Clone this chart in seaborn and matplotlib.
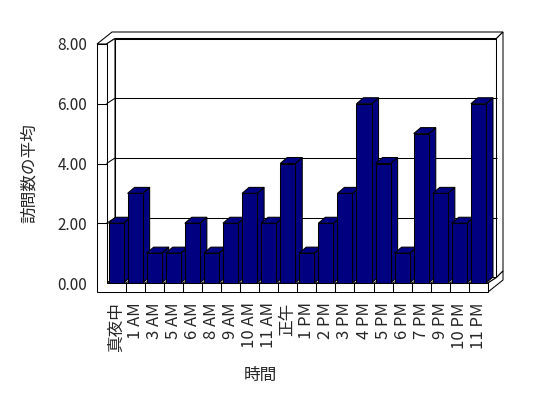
import matplotlib
matplotlib.use("Agg")
import matplotlib.pyplot as plt
from matplotlib.patches import Polygon
import seaborn as sns
import pandas as pd

categories = ["真夜中", "1 AM", "3 AM", "5 AM", "6 AM", "8 AM", "9 AM", "10 AM", "11 AM", "正午",
              "1 PM", "2 PM", "3 PM", "4 PM", "5 PM", "6 PM", "7 PM", "9 PM", "10 PM", "11 PM"]
values = [2, 3, 1, 1, 2, 1, 2, 3, 2, 4, 1, 2, 3, 6, 4, 1, 5, 3, 2, 6]
y_ticks = [0, 2, 4, 6, 8]
y_tick_labels = ["0.00", "2.00", "4.00", "6.00", "8.00"]
x_title = "時間"
y_title = "訪問数の平均"

sns.set_style("white")
plt.rcParams['font.family'] = ['Noto Sans CJK JP', 'DejaVu Sans']

W, H = 548, 398
fig = plt.figure(figsize=(W / 100, H / 100), dpi=100)
fig.patch.set_facecolor("white")

# front plane of the plot area in pixels
L, R, T, B = 106.5, 488.0, 44.0, 283.0
ax = fig.add_axes([L / W, 1 - B / H, (R - L) / W, (B - T) / H])
ax.set_facecolor("none")

n = len(categories)
ymax = y_ticks[-1]
LW = 0.75

def X(px):
    return -0.5 + (px - L) / (R - L) * n

def Y(py):
    return (B - py) / (B - T) * ymax

def poly(pts, z, fc="white", lw=LW):
    p = Polygon([(X(a), Y(b)) for a, b in pts], closed=True, facecolor=fc,
                edgecolor="black", linewidth=lw, zorder=z, clip_on=False)
    ax.add_patch(p)

def line(pts, z, lw=LW):
    ax.plot([X(a) for a, b in pts], [Y(b) for a, b in pts], color="black",
            linewidth=lw, zorder=z, clip_on=False, solid_capstyle="butt")

# depth offsets in pixels
DX, DY = 8.5, 5.5      # front plane -> back wall face
OX = 97.0              # outer left edge of left wall
FB = 292.0             # bottom of floor slab

df = pd.DataFrame({"cat": categories, "val": values})
sns.barplot(data=df, x="cat", y="val", color="#000080", saturation=1,
            edgecolor="black", linewidth=LW, width=0.79, ax=ax)
bars = list(ax.containers[0])

# back wall front face
poly([(L + DX, T - DY), (R + DX, T - DY), (R + DX, B - DY), (L + DX, B - DY)], 0.3)
# back wall top + left wall top
poly([(OX, T), (112, 32), (503, 32), (R + DX, T - DY), (L + DX, T - DY), (L, T)], 0.4)
# back wall right side
poly([(R + DX, T - DY), (503, 32), (503, 271), (R + DX, B - DY)], 0.4)
# left wall inner side
poly([(L, T), (L + DX, T - DY), (L + DX, B - DY), (L, B)], 0.4)
# floor top face
poly([(L, B), (R, B), (R + DX, B - DY), (L + DX, B - DY)], 0.5)
# floor right side
poly([(R, B), (R + DX, B - DY), (503, 271), (503, 280), (R, FB)], 0.5)
# left wall front + floor front (L-shape)
poly([(OX, T), (L, T), (L, B), (R, B), (R, FB), (OX, FB)], 0.6)
# gridlines and wall ticks
for v in y_ticks[1:-1]:
    py = B - v / ymax * (B - T)
    line([(L + DX, py - DY), (R + DX, py - DY)], 1.2)
    line([(L, py), (L + DX, py - DY)], 1.2)
    line([(OX, py), (L, py)], 1.3)
# category separators on floor
for k in range(1, n):
    px = L + k * (R - L) / n
    line([(px, B), (px, FB)], 1.3)
    line([(px, B), (px + DX, B - DY)], 1.2, lw=0.5)

bdx = 7.0 / (R - L) * n
bdy = 6.0 / (B - T) * ymax
navy = "#000080"
for i, p in enumerate(bars):
    x0 = p.get_x()
    x1 = x0 + p.get_width()
    h = p.get_height()
    p.set_zorder(3 + 2 * i)
    side = Polygon([(x1, 0), (x1 + bdx, bdy), (x1 + bdx, h + bdy), (x1, h)], closed=True,
                   facecolor=navy, edgecolor="black", linewidth=LW, zorder=2 + 2 * i, clip_on=False)
    top = Polygon([(x0, h), (x1, h), (x1 + bdx, h + bdy), (x0 + bdx, h + bdy)], closed=True,
                  facecolor=navy, edgecolor="black", linewidth=LW, zorder=2 + 2 * i, clip_on=False)
    ax.add_patch(side)
    ax.add_patch(top)

ax.set_xlim(-0.5, n - 0.5)
ax.set_ylim(0, ymax)
for s in ax.spines.values():
    s.set_visible(False)
ax.set_yticks(y_ticks)
ax.set_yticklabels(y_tick_labels, fontsize=11)
ax.set_xticks(range(n))
ax.set_xticklabels(categories, rotation=90, fontsize=12)
ax.tick_params(axis="y", length=0, pad=14)
ax.tick_params(axis="x", length=0, pad=14)
ax.set_xlabel("")
ax.set_ylabel("")
ax.grid(False)

fig.text(260 / W, 1 - 375 / H, x_title, ha="center", va="center", fontsize=12)
fig.text(29 / W, 1 - 173 / H, y_title, ha="center", va="center", rotation=90, fontsize=12)

fig.savefig("out.png", dpi=100, facecolor="white")
